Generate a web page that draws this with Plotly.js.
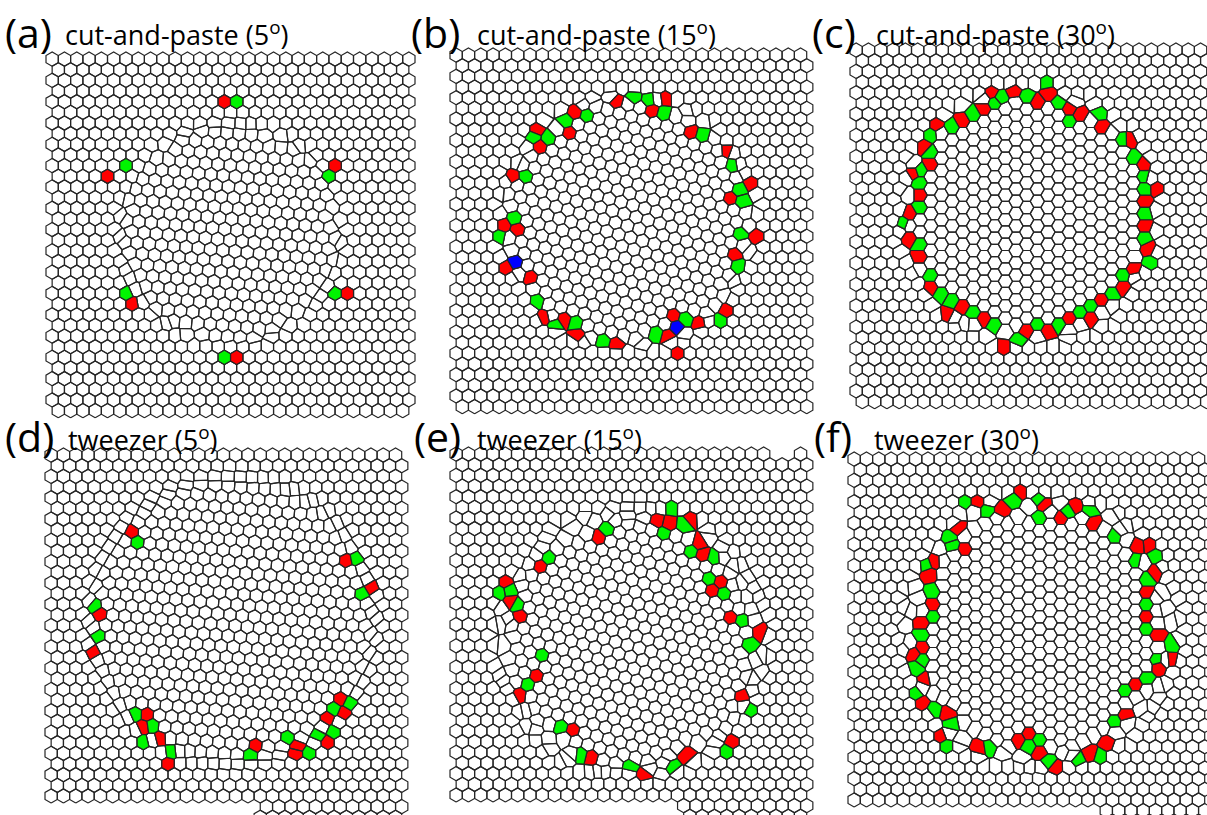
<!DOCTYPE html>
<html>
<head>
<meta charset="utf-8">
<script src="https://cdn.plot.ly/plotly-3.0.1.min.js"></script>
<style>
  html, body { margin: 0; padding: 0; background: #fff; }
  #plot { width: 1207px; height: 815px; }
</style>
</head>
<body>
<div id="plot"></div>
<script>
// ---------------------------------------------------------------------------
// Six snapshots of a 2D crystal with a rotated circular grain.
// Each cell is the Voronoi cell of one particle; 7-fold cells are red,
// 5-fold cells green and 4-fold cells blue.
// ---------------------------------------------------------------------------

const panelLabels = ['(a)', '(b)', '(c)', '(d)', '(e)', '(f)'];
const panelMethods = ['cut-and-paste', 'cut-and-paste', 'cut-and-paste', 'tweezer', 'tweezer', 'tweezer'];
const misorientationDeg = [5, 15, 30, 5, 15, 30];

// grain centre and radius (sheet units)
const grainCenterX = [230, 627, 1029, 232, 631, 1040];
const grainCenterY = [233, 222, 217, 620, 642, 631];
const grainRadius = [110, 125, 125, 142, 130, 130];

// 7-fold particles
const sevenX = [
  [226, 113, 331, 130, 344, 242],
  [617, 665, 577, 647, 540, 565, 539, 697, 730, 510, 747, 733, 500, 517, 753, 737, 505, 527, 541, 570, 577, 617, 663, 678, 700, 678, 723],
  [993, 1017, 1053, 1035, 983, 963, 939, 1067, 1088, 1106, 1128, 1142, 1153, 1140, 1142, 1153, 1130, 1118, 1098, 1087, 1067, 1046, 1025, 1005, 983, 962, 942, 928, 930, 930, 910, 922, 910, 910, 922],
  [144, 140, 157, 171, 255, 301, 293, 334, 340, 325, 328, 127, 100, 88, 343, 375],
  [657, 687, 675, 697, 702, 600, 538, 503, 513, 520, 726, 711, 735, 762, 542, 517, 743, 567, 731, 593, 642, 688],
  [975, 1002, 1023, 1042, 1055, 1078, 1097, 1130, 1151, 1159, 1148, 1149, 1159, 1169, 1158, 1139, 1126, 1103, 1082, 1061, 1042, 1032, 1015, 972, 940, 943, 921, 920, 908, 919, 920, 931, 930, 931, 961, 960]
];
const sevenY = [
  [102, 173, 165, 309, 290, 359],
  [97, 98, 107, 110, 128, 132, 150, 130, 150, 180, 182, 195, 222, 232, 233, 260, 273, 273, 315, 318, 337, 348, 335, 320, 327, 347, 307],
  [93, 93, 93, 106, 113, 125, 125, 113, 113, 124, 145, 167, 187, 203, 228, 248, 271, 289, 303, 318, 319, 332, 332, 343, 321, 307, 309, 290, 145, 168, 175, 197, 218, 240, 259],
  [713, 730, 733, 763, 746, 743, 757, 701, 716, 722, 737, 531, 612, 650, 563, 588],
  [525, 515, 528, 535, 555, 537, 563, 583, 597, 620, 580, 594, 617, 638, 673, 691, 699, 732, 745, 752, 771, 759],
  [501, 513, 500, 510, 520, 507, 517, 548, 549, 580, 597, 619, 638, 655, 673, 686, 716, 739, 753, 763, 750, 732, 743, 746, 733, 716, 699, 679, 660, 642, 620, 602, 579, 556, 547, 527]
];

// 5-fold particles
const fiveX = [
  [236, 123, 331, 130, 333, 232],
  [628, 653, 591, 668, 560, 553, 534, 705, 735, 520, 735, 742, 510, 505, 743, 735, 542, 558, 578, 607, 652, 688, 717],
  [1004, 1028, 1041, 993, 1055, 973, 952, 935, 1078, 1100, 1123, 1135, 1147, 1141, 1142, 1142, 1147, 1119, 1108, 1088, 1077, 1057, 1037, 1017, 993, 973, 952, 942, 930, 930, 922, 920, 920, 905, 920],
  [134, 148, 147, 171, 256, 291, 303, 345, 330, 333, 319, 137, 90, 97, 352, 366],
  [665, 675, 690, 695, 712, 607, 547, 515, 500, 519, 715, 722, 746, 752, 540, 527, 747, 558, 723, 582, 631, 678],
  [963, 990, 1012, 1036, 1044, 1066, 1090, 1110, 1140, 1157, 1148, 1151, 1150, 1172, 1160, 1150, 1129, 1118, 1093, 1073, 1050, 1040, 1027, 993, 949, 949, 931, 918, 918, 918, 916, 930, 930, 927, 950, 957]
];
const fiveY = [
  [106, 170, 176, 298, 294, 357],
  [98, 98, 112, 114, 120, 134, 138, 138, 161, 175, 185, 203, 213, 233, 235, 272, 302, 325, 325, 340, 340, 318, 315],
  [93, 93, 93, 106, 105, 118, 130, 135, 117, 114, 135, 157, 177, 190, 216, 242, 258, 277, 297, 307, 315, 327, 327, 342, 327, 315, 303, 296, 277, 157, 170, 186, 209, 228, 247],
  [719, 725, 740, 752, 757, 745, 755, 705, 712, 727, 732, 539, 608, 643, 558, 594],
  [532, 517, 526, 546, 548, 529, 556, 586, 593, 608, 583, 598, 622, 645, 660, 685, 712, 723, 755, 749, 767, 765],
  [505, 516, 506, 500, 522, 512, 508, 535, 553, 560, 583, 608, 631, 643, 662, 682, 693, 724, 747, 760, 760, 739, 742, 750, 742, 727, 712, 692, 667, 653, 631, 613, 590, 567, 548, 538]
];

// 4-fold particles
const fourX = [[], [518, 677], [], [], [], []];
const fourY = [[], [265, 332], [], [], [], []];

// ---------------------------------------------------------------------------
// Geometry / style
// ---------------------------------------------------------------------------
const SPACING = 12.3;                                   // lattice constant
const BOUNDARY_WIDTH = [0.3, 0.3, 0.3, 0.9, 0.8, 0.8];  // in lattice constants
// field of view of each snapshot; "ext" lets the lower right part run further
// down, "gap" leaves out a few cells of the top row
const FRAMES = [
  { x0: 46,  x1: 418,  y0: 52,  y1: 419 },
  { x0: 450, x1: 815,  y0: 48,  y1: 415 },
  { x0: 850, x1: 1216, y0: 43,  y1: 413 },
  { x0: 45,  x1: 412,  y0: 448, y1: 807, ext: { x: 253, y1: 830 } },
  { x0: 450, x1: 815,  y0: 447, y1: 805, ext: { x: 673, y1: 830 }, gap: { xa: 764, xb: 790, y: 462 } },
  { x0: 848, x1: 1216, y0: 452, y1: 810, ext: { x: 1098, y1: 830 } }
];
const LABEL_POS = [[3, 32], [409, 32], [810, 32], [3, 436], [412, 436], [812, 436]];
const TITLE_POS = [[63, 34], [475, 34], [874, 34], [66, 438], [475, 438], [872, 438]];
const EDGE = '#262626';
const COLORS = { seven: '#ff0000', five: '#00f500', four: '#0000ff' };

const SQ3 = Math.sqrt(3);

function clipHalf(poly, nx, ny, c) {
  const out = [];
  const n = poly.length;
  for (let i = 0; i < n; i++) {
    const P = poly[i], Q = poly[(i + 1) % n];
    const dp = nx * P[0] + ny * P[1] - c;
    const dq = nx * Q[0] + ny * Q[1] - c;
    if (dp <= 0) out.push(P);
    if ((dp < 0 && dq > 0) || (dp > 0 && dq < 0)) {
      const t = dp / (dp - dq);
      out.push([P[0] + t * (Q[0] - P[0]), P[1] + t * (Q[1] - P[1])]);
    }
  }
  return out;
}

function inFrame(f, x, y, a, rv) {
  const bottom = (f.ext && x - a / 2 >= f.ext.x - 0.5) ? f.ext.y1 : f.y1;
  if (x - a / 2 < f.x0 - 0.5 || x + a / 2 > f.x1 + 0.5) return false;
  if (y - rv < f.y0 - 0.5 || y + rv > bottom + 0.5) return false;
  if (f.gap && y < f.gap.y && x > f.gap.xa && x < f.gap.xb) return false;
  return true;
}

function buildPanel(k) {
  const f = FRAMES[k];
  const a = SPACING;
  const h = a * SQ3 / 2, rv = a / SQ3;
  const theta = misorientationDeg[k] * Math.PI / 180;
  const cx = grainCenterX[k], cy = grainCenterY[k], R = grainRadius[k];
  const w = BOUNDARY_WIDTH[k] * a;
  const yMax = Math.max(f.y1, f.ext ? f.ext.y1 : 0);

  // triangular lattice, twisted inside the grain
  const raw = [];
  for (let j = -3; ; j++) {
    const y = f.y0 + rv + j * h;
    if (y > yMax + 3 * a) break;
    const off = (Math.abs(j) % 2 === 1) ? a / 2 : 0;
    for (let i = -3; ; i++) {
      const x = f.x0 + a / 2 + off + i * a;
      if (x > f.x1 + 3 * a) break;
      const drawn = inFrame(f, x, y, a, rv);
      const dx = x - cx, dy = y - cy, r = Math.hypot(dx, dy);
      let s = 0;
      if (r <= R - w) s = 1;
      else if (r < R + w) { const t = (R + w - r) / (2 * w); s = t * t * (3 - 2 * t); }
      const phi = theta * s, c = Math.cos(phi), sn = Math.sin(phi);
      raw.push({ x: cx + dx * c - dy * sn, y: cy + dx * sn + dy * c, drawn, s });
    }
  }

  // drop particles that landed on top of another one
  raw.sort((p, q) => p.s - q.s);
  const G = a;
  const grid = new Map();
  const key = (gx, gy) => gx + ',' + gy;
  const pts = [];
  const dmin = 0.55 * a;
  for (const p of raw) {
    const gx = Math.floor(p.x / G), gy = Math.floor(p.y / G);
    let ok = true;
    for (let u = -1; u <= 1 && ok; u++) for (let v = -1; v <= 1 && ok; v++) {
      const cell = grid.get(key(gx + u, gy + v));
      if (!cell) continue;
      for (const q of cell) if (Math.hypot(q.x - p.x, q.y - p.y) < dmin) { ok = false; break; }
    }
    if (!ok) continue;
    pts.push(p);
    const kk = key(gx, gy);
    if (!grid.has(kk)) grid.set(kk, []);
    grid.get(kk).push(p);
  }

  // Voronoi cells of the particles inside the frame
  const cells = [];
  for (const p of pts) {
    if (!p.drawn) continue;
    let poly = [[p.x - 3 * a, p.y - 3 * a], [p.x + 3 * a, p.y - 3 * a], [p.x + 3 * a, p.y + 3 * a], [p.x - 3 * a, p.y + 3 * a]];
    const gx = Math.floor(p.x / G), gy = Math.floor(p.y / G);
    for (let u = -3; u <= 3; u++) for (let v = -3; v <= 3; v++) {
      const cell = grid.get(key(gx + u, gy + v));
      if (!cell) continue;
      for (const q of cell) {
        if (q === p) continue;
        const nx = q.x - p.x, ny = q.y - p.y;
        if (nx * nx + ny * ny > 9 * a * a) continue;
        const c = nx * (p.x + q.x) / 2 + ny * (p.y + q.y) / 2;
        poly = clipHalf(poly, nx, ny, c);
      }
    }
    cells.push({ x: p.x, y: p.y, poly, kind: null });
  }

  // mark the defect particles
  function mark(xs, ys, kind) {
    for (let i = 0; i < xs.length; i++) {
      let best = null, bd = Infinity;
      for (const c of cells) {
        const d = (c.x - xs[i]) ** 2 + (c.y - ys[i]) ** 2;
        if (d < bd && !c.kind) { bd = d; best = c; }
      }
      if (best) best.kind = kind;
    }
  }
  mark(fourX[k], fourY[k], 'four');
  mark(sevenX[k], sevenY[k], 'seven');
  mark(fiveX[k], fiveY[k], 'five');
  return cells;
}

function polyTrace(cells, color, fill) {
  const x = [], y = [];
  for (const c of cells) {
    for (const v of c.poly) { x.push(v[0]); y.push(v[1]); }
    x.push(c.poly[0][0]); y.push(c.poly[0][1]);
    x.push(null); y.push(null);
  }
  const t = {
    type: 'scatter', mode: 'lines', x, y,
    line: { color: EDGE, width: 1.2 },
    hoverinfo: 'skip', showlegend: false, connectgaps: false
  };
  if (fill) { t.fill = 'toself'; t.fillcolor = color; }
  return t;
}

const traces = [];
for (let k = 0; k < 6; k++) {
  const cells = buildPanel(k);
  traces.push(polyTrace(cells, null, false));
  for (const kind of ['seven', 'five', 'four']) {
    const sel = cells.filter(c => c.kind === kind);
    if (sel.length) traces.push(polyTrace(sel, COLORS[kind], true));
  }
}

const W = 1207, H = 815;
const FONT = '"Open Sans", "Noto Sans", sans-serif';
const annotations = [];
for (let k = 0; k < 6; k++) {
  annotations.push({
    xref: 'paper', yref: 'paper', x: LABEL_POS[k][0] / W, y: 1 - LABEL_POS[k][1] / H,
    xanchor: 'left', yanchor: 'middle', showarrow: false,
    text: panelLabels[k], font: { family: FONT, size: 41, color: '#000' }
  });
  annotations.push({
    xref: 'paper', yref: 'paper', x: TITLE_POS[k][0] / W, y: 1 - TITLE_POS[k][1] / H,
    xanchor: 'left', yanchor: 'middle', showarrow: false,
    text: panelMethods[k] + ' (' + misorientationDeg[k] + '<sup>o</sup>)',
    font: { family: FONT, size: 27, color: '#000' }
  });
}

const layout = {
  width: W, height: H,
  margin: { l: 0, r: 0, t: 0, b: 0 },
  paper_bgcolor: '#fff', plot_bgcolor: '#fff',
  xaxis: { range: [0, W], visible: false, fixedrange: true },
  yaxis: { range: [H, 0], visible: false, fixedrange: true },
  annotations,
  showlegend: false
};

Plotly.newPlot('plot', traces, layout, { staticPlot: true, displayModeBar: false });
</script>
</body>
</html>
